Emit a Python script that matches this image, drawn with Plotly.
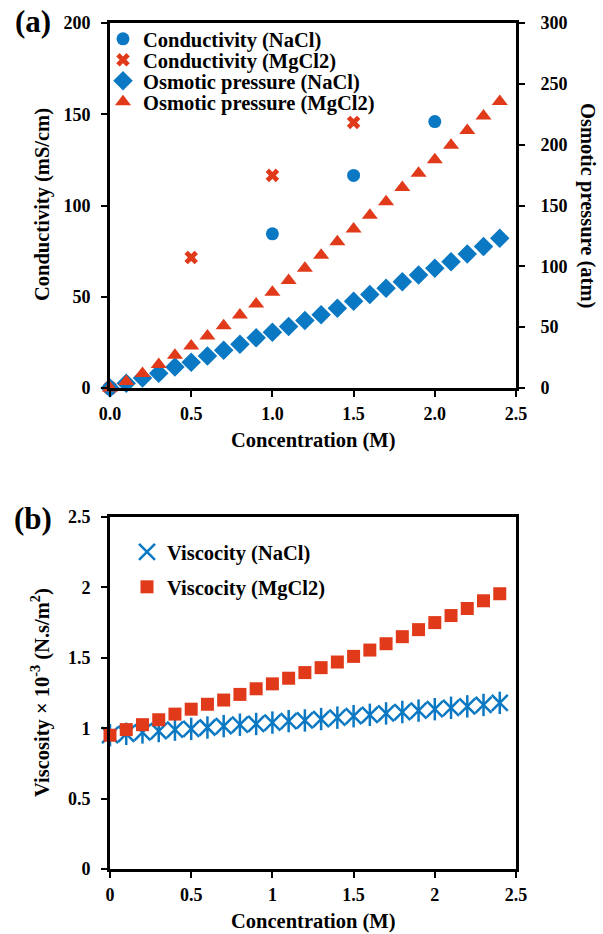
import plotly.graph_objects as go

conc = [round(0.1 * i, 1) for i in range(25)]

cond_x_nacl = [0.0, 1.0, 1.5, 2.0]
cond_nacl = [0, 84.5, 116.5, 146]
cond_x_mgcl2 = [0.0, 0.5, 1.0, 1.5]
cond_mgcl2 = [0, 71.5, 116.5, 145.5]

osm_nacl = [0, 4.0, 8.2, 12.2, 17.2, 21.2, 26.2, 31.0, 36.0, 41.2, 45.8, 50.6,
            55.4, 60.2, 65.6, 71.2, 76.8, 82.0, 87.4, 92.8, 98.4, 103.8, 110.2, 116.2, 123.0]
osm_mgcl2 = [0, 5.4, 12.0, 19.4, 27.0, 34.6, 42.8, 51.2, 60.0, 69.0, 78.8, 88.4,
             98.4, 109.2, 120.2, 130.6, 142.0, 153.0, 164.8, 176.6, 187.6, 199.6, 211.6, 223.6, 235.4]

visc_nacl = [0.95, 0.96, 0.97, 0.98, 0.99, 0.995, 1.005, 1.015, 1.025, 1.03, 1.04, 1.05,
             1.055, 1.065, 1.075, 1.085, 1.095, 1.105, 1.115, 1.125, 1.135, 1.145, 1.155, 1.165, 1.18]
visc_mgcl2 = [0.95, 0.99, 1.025, 1.06, 1.10, 1.135, 1.17, 1.20, 1.24, 1.28, 1.315, 1.355,
              1.395, 1.43, 1.47, 1.51, 1.555, 1.60, 1.65, 1.70, 1.75, 1.80, 1.85, 1.905, 1.955]

BLUE = "#0A78C2"
RED = "#E03A1A"
FONT = "Liberation Serif"

W, H = 603, 934
def px(x):
    return x / W
def py(y):
    return 1 - y / H

fig = go.Figure()

# top panel
fig.add_trace(go.Scatter(x=cond_x_nacl, y=cond_nacl, mode="markers", name="Conductivity (NaCl)",
                         marker=dict(symbol="circle", size=13, color=BLUE),
                         xaxis="x", yaxis="y", cliponaxis=False, legend="legend"))
fig.add_trace(go.Scatter(x=cond_x_mgcl2, y=cond_mgcl2, mode="markers", name="Conductivity (MgCl2)",
                         marker=dict(symbol="x", size=12, color=RED, line=dict(width=0)),
                         xaxis="x", yaxis="y", cliponaxis=False, legend="legend2"))
fig.add_trace(go.Scatter(x=conc, y=osm_nacl, mode="markers", name="Osmotic pressure (NaCl)",
                         marker=dict(symbol="diamond", size=15, color=BLUE),
                         xaxis="x", yaxis="y2", cliponaxis=False, legend="legend3"))
fig.add_trace(go.Scatter(x=conc, y=osm_mgcl2, mode="markers", name="Osmotic pressure (MgCl2)",
                         marker=dict(symbol="triangle-up", size=14, color=RED),
                         xaxis="x", yaxis="y2", cliponaxis=False, legend="legend4"))

# bottom panel
fig.add_trace(go.Scatter(x=conc, y=visc_nacl, mode="markers", name="Viscocity (NaCl)",
                         marker=dict(symbol="x-thin", size=16, color=BLUE, line=dict(width=2.5, color=BLUE)),
                         xaxis="x2", yaxis="y3", cliponaxis=False, legend="legend5"))
fig.add_trace(go.Scatter(x=conc, y=visc_nacl, mode="markers", showlegend=False,
                         marker=dict(symbol="line-ns", size=16, color=BLUE, line=dict(width=2.5, color=BLUE)),
                         xaxis="x2", yaxis="y3", cliponaxis=False, legend="legend5"))
fig.add_trace(go.Scatter(x=conc, y=visc_mgcl2, mode="markers", name="Viscocity (MgCl2)",
                         marker=dict(symbol="square", size=13, color=RED),
                         xaxis="x2", yaxis="y3", cliponaxis=False, legend="legend6"))

tickfont = dict(family=FONT, size=18, color="black", weight="bold")
def axis_common(standoff):
    return dict(showline=True, linewidth=3, linecolor="black", ticks="outside",
                ticklen=6, tickwidth=1.5, tickcolor="black", showgrid=False,
                zeroline=False, tickfont=tickfont, ticklabelstandoff=standoff, automargin=False)

xdom = [px(110), px(516)]
legfont = dict(family=FONT, size=20.5, color="black", weight="bold")

def leg(xp, yp):
    return dict(x=px(xp), y=py(yp), xanchor="left", yanchor="middle",
                bgcolor="rgba(0,0,0,0)", borderwidth=0, font=legfont, itemwidth=30)

fig.update_layout(
    width=W, height=H, margin=dict(l=0, r=0, t=0, b=0, autoexpand=False),
    paper_bgcolor="white", plot_bgcolor="white",
    xaxis=dict(domain=xdom, range=[0, 2.5], dtick=0.5, tickformat=".1f",
               anchor="y", mirror=True, **axis_common(1)),
    yaxis=dict(domain=[py(388), py(23)], range=[0, 200], dtick=50,
               anchor="x", mirror=True, **axis_common(7)),
    yaxis2=dict(range=[0, 300], dtick=50, overlaying="y", side="right", anchor="x",
                **axis_common(12)),
    xaxis2=dict(domain=xdom, range=[0, 2.5], dtick=0.5, anchor="y3", mirror=True,
                **axis_common(1)),
    yaxis3=dict(domain=[py(869), py(517)], range=[0, 2.5], dtick=0.5, anchor="x2",
                mirror=True, **axis_common(7)),
    legend=leg(103, 39),
    legend2=leg(103, 60),
    legend3=leg(103, 81),
    legend4=leg(103, 102),
    legend5=leg(127, 552),
    legend6=leg(127, 587),
    showlegend=True,
)

titlefont = dict(family=FONT, size=20.5, color="black", weight="bold")
ann = [
    dict(text="(a)", x=px(33), y=py(22), font=dict(family=FONT, size=31, color="black", weight="bold")),
    dict(text="(b)", x=px(33), y=py(518), font=dict(family=FONT, size=31, color="black", weight="bold")),
    dict(text="Conductivity (mS/cm)", x=px(42), y=py(205), textangle=-90, font=titlefont),
    dict(text="Osmotic pressure (atm)", x=px(588), y=py(205), textangle=90, font=titlefont),
    dict(text="Concentration (M)", x=px(313), y=py(440), font=titlefont),
    dict(text="Viscosity × 10<sup>-3</sup> (N.s/m<sup>2</sup>)", x=px(40), y=py(693), textangle=-90, font=titlefont),
    dict(text="Concentration (M)", x=px(313), y=py(921), font=titlefont),
]
for a in ann:
    a.update(xref="paper", yref="paper", showarrow=False, xanchor="center", yanchor="middle")
fig.update_layout(annotations=ann)

fig.write_html("out.html")
